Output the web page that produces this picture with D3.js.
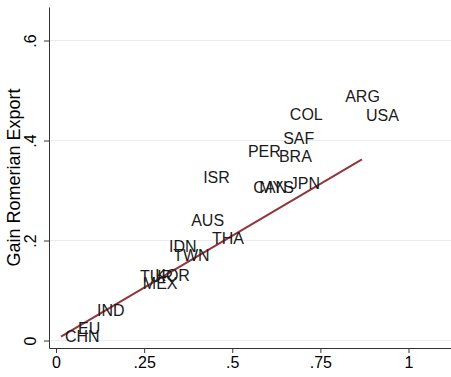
<!DOCTYPE html>
<html>
<head>
<meta charset="utf-8">
<script src="https://cdn.jsdelivr.net/npm/d3@7"></script>
<style>
  html, body { margin: 0; padding: 0; background: #fff; }
  svg { display: block; font-family: "Liberation Sans", Arial, sans-serif; }
</style>
</head>
<body>
<svg id="chart" width="451" height="377"></svg>
<script>
// Country codes and their (share, gain) coordinates
const countries = ["ARG","USA","COL","SAF","PER","BRA","JPN","CAN","MYS","ISR",
                   "AUS","THA","IDN","TWN","TUR","KOR","MEX","IND","EU","CHN"];
const xValues = [0.809,0.868,0.652,0.633,0.533,0.621,0.652,0.548,0.565,0.406,
                 0.372,0.431,0.309,0.321,0.227,0.270,0.235,0.105,0.051,0.014];
const yValues = [0.488,0.451,0.453,0.405,0.379,0.369,0.315,0.307,0.307,0.327,
                 0.241,0.204,0.189,0.171,0.129,0.131,0.115,0.061,0.025,0.008];

// Linear fit: intercept and slope
const fitParams = [0.002, 0.415];

const xTicks = [0, 0.25, 0.5, 0.75, 1];
const yTicks = [0, 0.2, 0.4, 0.6];
const yTitle = "Gain Romerian Export";

const svg = d3.select("#chart");
const x = d3.scaleLinear().domain([-0.02, 1.1206]).range([49, 451]);
const y = d3.scaleLinear().domain([-0.015, 0.667]).range([348, 7]);

const fmt = d => d === 0 ? "0" : d3.format("~g")(d).replace(/^0\./, ".");

// horizontal grid lines
svg.append("g").selectAll("line").data(yTicks).join("line")
  .attr("x1", x.range()[0]).attr("x2", x.range()[1])
  .attr("y1", d => y(d)).attr("y2", d => y(d))
  .attr("stroke", "#e6eef1").attr("stroke-width", 1);

// x axis
const gx = svg.append("g").attr("transform", `translate(0,${y.range()[0]})`)
  .call(d3.axisBottom(x).tickValues(xTicks).tickFormat(fmt).tickSizeInner(5).tickSizeOuter(0).tickPadding(4));
gx.select(".domain").attr("stroke", "#333");
gx.selectAll(".tick line").attr("stroke", "#333");
gx.selectAll(".tick text").attr("font-size", 16).attr("fill", "#000")
  .attr("font-family", "Liberation Sans, Arial, sans-serif");

// y axis
const gy = svg.append("g").attr("transform", `translate(${x.range()[0]},0)`)
  .call(d3.axisLeft(y).tickValues(yTicks).tickFormat(fmt).tickSizeInner(5).tickSizeOuter(0).tickPadding(0));
gy.select(".domain").attr("stroke", "#333");
gy.selectAll(".tick line").attr("stroke", "#333");
gy.selectAll(".tick text")
  .attr("font-size", 16).attr("fill", "#000")
  .attr("font-family", "Liberation Sans, Arial, sans-serif")
  .attr("x", null).attr("dy", null)
  .attr("text-anchor", "middle")
  .attr("transform", "translate(-13,0) rotate(-90)");

// y axis title
svg.append("text")
  .attr("transform", `translate(20,${(y.range()[0] + y.range()[1]) / 2}) rotate(-90)`)
  .attr("text-anchor", "middle")
  .attr("font-size", 18).attr("fill", "#000")
  .text(yTitle);

// fitted line over the range of x
const xr = d3.extent(xValues);
const fitLine = xr.map(v => [v, fitParams[0] + fitParams[1] * v]);
svg.append("path")
  .attr("d", d3.line().x(d => x(d[0])).y(d => y(d[1]))(fitLine))
  .attr("fill", "none").attr("stroke", "#93363b").attr("stroke-width", 2);

// country labels at each point
svg.append("g").selectAll("text").data(countries).join("text")
  .attr("x", (d, i) => x(xValues[i]) + 4)
  .attr("y", (d, i) => y(yValues[i]))
  .attr("dy", "0.36em")
  .attr("font-size", 16).attr("fill", "#1a1a1a")
  .text(d => d);
</script>
</body>
</html>
